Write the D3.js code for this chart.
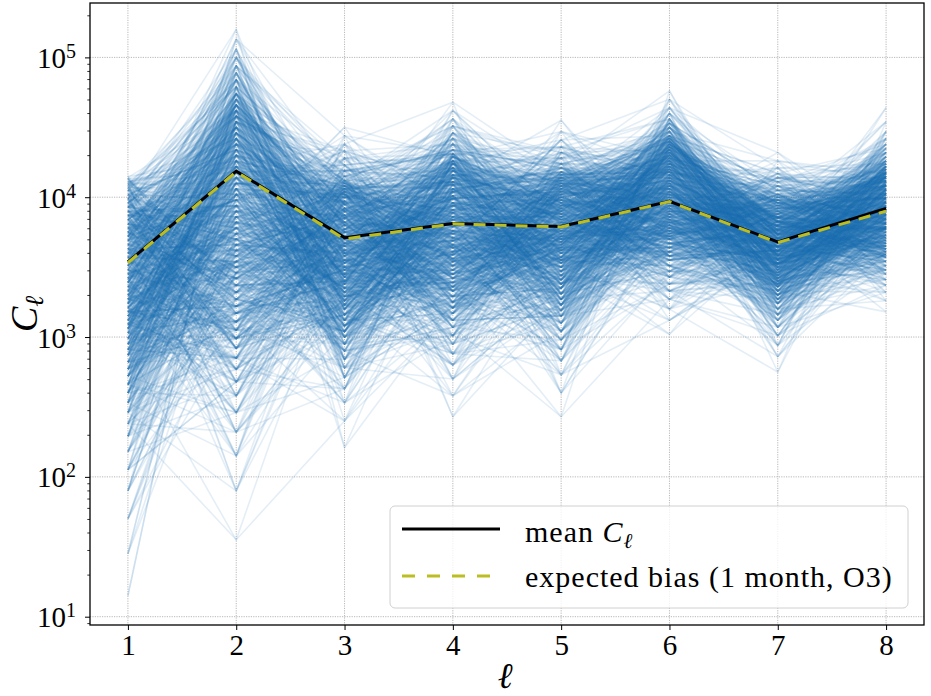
<!DOCTYPE html>
<html>
<head>
<meta charset="utf-8">
<script src="https://cdn.jsdelivr.net/npm/d3@7"></script>
<style>
  body { margin: 0; background: #fff; }
  svg { display: block; }
  .serif { font-family: "Liberation Serif", "DejaVu Serif", serif; fill: #000; }
</style>
</head>
<body>
<svg id="chart" width="931" height="696"></svg>
<script>
// multipole index
const ells = [1, 2, 3, 4, 5, 6, 7, 8];

// mean C_l over all realizations and the expected bias
const meanCl = [3440, 15350, 5140, 6490, 6170, 9360, 4790, 8330];
const biasCl = [3400, 15200, 5020, 6450, 6130, 9300, 4740, 7950];

// spread of the realizations at each l (log10 C_l, low to high)
const logSamplesL1 = [1.15, 1.45, 1.70, 1.90, 2.05, 2.18, 2.29, 2.38, 2.46, 2.53, 2.60, 2.66, 2.72, 2.77, 2.82, 2.87, 2.91, 2.95, 2.99, 3.03,
                      3.06, 3.09, 3.12, 3.15, 3.18, 3.21, 3.24, 3.27, 3.30, 3.33, 3.36, 3.39, 3.42, 3.45, 3.48, 3.51, 3.54, 3.57, 3.60, 3.63,
                      3.66, 3.69, 3.72, 3.75, 3.78, 3.81, 3.84, 3.87, 3.90, 3.93, 3.96, 3.99, 4.02, 4.05, 4.07, 4.09, 4.11, 4.13, 4.14, 4.15];
const logSamplesL2 = [1.55, 1.90, 2.15, 2.32, 2.46, 2.58, 2.68, 2.77, 2.85, 2.92, 2.99, 3.05, 3.11, 3.17, 3.22, 3.27, 3.32, 3.37, 3.42, 3.46,
                      3.50, 3.54, 3.58, 3.62, 3.66, 3.70, 3.74, 3.78, 3.82, 3.86, 3.90, 3.94, 3.98, 4.02, 4.06, 4.10, 4.14, 4.18, 4.22, 4.26,
                      4.30, 4.34, 4.38, 4.42, 4.46, 4.50, 4.54, 4.58, 4.62, 4.66, 4.70, 4.74, 4.79, 4.84, 4.89, 4.94, 5.00, 5.06, 5.13, 5.20];
const logSamplesL3 = [2.21, 2.40, 2.53, 2.63, 2.71, 2.78, 2.84, 2.90, 2.95, 3.00, 3.04, 3.08, 3.12, 3.16, 3.20, 3.23, 3.26, 3.29, 3.32, 3.35,
                      3.38, 3.40, 3.43, 3.45, 3.48, 3.50, 3.53, 3.55, 3.58, 3.60, 3.62, 3.65, 3.67, 3.70, 3.72, 3.75, 3.77, 3.80, 3.82, 3.85,
                      3.87, 3.90, 3.92, 3.95, 3.97, 4.00, 4.02, 4.04, 4.06, 4.08, 4.10, 4.12, 4.15, 4.19, 4.23, 4.28, 4.33, 4.38, 4.44, 4.50];
const logSamplesL4 = [2.43, 2.58, 2.70, 2.80, 2.88, 2.95, 3.01, 3.07, 3.12, 3.17, 3.21, 3.25, 3.29, 3.33, 3.36, 3.39, 3.42, 3.45, 3.48, 3.51,
                      3.54, 3.56, 3.59, 3.61, 3.64, 3.66, 3.69, 3.71, 3.74, 3.76, 3.79, 3.81, 3.84, 3.86, 3.89, 3.91, 3.94, 3.96, 3.99, 4.01,
                      4.04, 4.06, 4.09, 4.11, 4.14, 4.16, 4.19, 4.21, 4.24, 4.26, 4.29, 4.31, 4.34, 4.38, 4.42, 4.46, 4.51, 4.56, 4.62, 4.68];
const logSamplesL5 = [2.43, 2.60, 2.73, 2.83, 2.91, 2.98, 3.04, 3.10, 3.15, 3.19, 3.23, 3.27, 3.31, 3.35, 3.38, 3.41, 3.44, 3.47, 3.50, 3.53,
                      3.55, 3.57, 3.60, 3.62, 3.64, 3.66, 3.68, 3.70, 3.72, 3.74, 3.76, 3.78, 3.80, 3.82, 3.84, 3.86, 3.88, 3.90, 3.92, 3.94,
                      3.96, 3.98, 4.00, 4.02, 4.04, 4.06, 4.08, 4.10, 4.12, 4.14, 4.16, 4.18, 4.21, 4.24, 4.28, 4.32, 4.36, 4.41, 4.47, 4.55];
const logSamplesL6 = [3.02, 3.12, 3.20, 3.27, 3.33, 3.38, 3.43, 3.47, 3.51, 3.55, 3.58, 3.61, 3.64, 3.67, 3.70, 3.72, 3.74, 3.76, 3.78, 3.80,
                      3.82, 3.84, 3.86, 3.88, 3.90, 3.92, 3.94, 3.96, 3.98, 4.00, 4.02, 4.04, 4.06, 4.08, 4.10, 4.12, 4.14, 4.16, 4.18, 4.20,
                      4.22, 4.24, 4.26, 4.28, 4.30, 4.32, 4.34, 4.36, 4.38, 4.40, 4.42, 4.44, 4.47, 4.50, 4.53, 4.56, 4.60, 4.64, 4.70, 4.76];
const logSamplesL7 = [2.75, 2.86, 2.94, 3.01, 3.07, 3.12, 3.16, 3.20, 3.24, 3.27, 3.30, 3.33, 3.36, 3.38, 3.40, 3.42, 3.44, 3.46, 3.48, 3.50,
                      3.52, 3.53, 3.55, 3.56, 3.58, 3.59, 3.61, 3.62, 3.64, 3.65, 3.67, 3.68, 3.70, 3.71, 3.73, 3.74, 3.76, 3.77, 3.79, 3.80,
                      3.82, 3.83, 3.85, 3.86, 3.88, 3.90, 3.92, 3.94, 3.96, 3.98, 4.00, 4.02, 4.05, 4.08, 4.11, 4.14, 4.17, 4.21, 4.26, 4.32];
const logSamplesL8 = [3.18, 3.26, 3.32, 3.37, 3.41, 3.45, 3.48, 3.51, 3.54, 3.57, 3.59, 3.61, 3.63, 3.65, 3.67, 3.69, 3.71, 3.73, 3.75, 3.77,
                      3.78, 3.79, 3.81, 3.82, 3.84, 3.85, 3.87, 3.88, 3.90, 3.91, 3.93, 3.94, 3.96, 3.97, 3.99, 4.00, 4.02, 4.03, 4.05, 4.06,
                      4.08, 4.09, 4.11, 4.12, 4.14, 4.15, 4.17, 4.18, 4.20, 4.22, 4.24, 4.26, 4.29, 4.32, 4.35, 4.38, 4.42, 4.47, 4.54, 4.64];

// tick values
const majorYTicks = [1e1, 1e2, 1e3, 1e4, 1e5];
const yExponents = [1, 2, 3, 4, 5];

const legendLabels = ["mean", "expected bias (1 month, O3)"];

// ---- layout ----
const plot = { left: 90, right: 924, top: 3, bottom: 625 };
const svg = d3.select("#chart");

const x = d3.scaleLinear().domain([0.65, 8.35]).range([plot.left, plot.right]);
const y = d3.scaleLog().domain([Math.pow(10, 0.9406), Math.pow(10, 5.389)]).range([plot.bottom, plot.top]);

svg.append("rect").attr("width", 931).attr("height", 696).attr("fill", "#fff");

svg.append("defs").append("clipPath").attr("id", "plot-clip")
  .append("rect")
  .attr("x", plot.left).attr("y", plot.top)
  .attr("width", plot.right - plot.left).attr("height", plot.bottom - plot.top);

// grid (dotted)
const grid = svg.append("g").attr("stroke", "#b0b0b0").attr("stroke-width", 0.9).attr("stroke-dasharray", "1.2,1.2");
grid.selectAll("line.gx").data(ells).enter().append("line")
  .attr("x1", d => x(d)).attr("x2", d => x(d))
  .attr("y1", plot.top).attr("y2", plot.bottom);
grid.selectAll("line.gy").data(majorYTicks).enter().append("line")
  .attr("x1", plot.left).attr("x2", plot.right)
  .attr("y1", d => y(d)).attr("y2", d => y(d));

// ---- realizations ----
const samplesByEll = [logSamplesL1, logSamplesL2, logSamplesL3, logSamplesL4,
                      logSamplesL5, logSamplesL6, logSamplesL7, logSamplesL8];
const nSamp = logSamplesL1.length;

// how many passes use the levels from `trim` to nSamp-1-trim: the tails get few lines
const trimPasses = [[0, 2], [1, 2], [2, 2], [3, 2], [4, 2], [6, 3], [8, 3], [10, 4]];

// fixed integer hash, only used to decide which level at one l joins which level at the next
function mix(a, b, c) {
  let h = Math.imul(a ^ 0x9e3779b9, 0x85ebca6b) ^ Math.imul(b + 0x7f4a7c15, 0xc2b2ae35) ^ Math.imul(c + 0x165667b1, 0x27d4eb2f);
  h ^= h >>> 15; h = Math.imul(h, 0x2c1b3c6d);
  h ^= h >>> 12; h = Math.imul(h, 0x297a2d39);
  h ^= h >>> 15;
  return h >>> 0;
}

const realizations = [];
let pass = 0;
trimPasses.forEach(([trim, count]) => {
  for (let c = 0; c < count; c++, pass++) {
    const n = nSamp - 2 * trim;
    const orders = ells.map((l, i) =>
      d3.range(n).sort((a, b) => mix(pass, i, a) - mix(pass, i, b)));
    for (let k = 0; k < n; k++) {
      realizations.push(ells.map((l, i) => ({
        l: l,
        v: Math.pow(10, samplesByEll[i][trim + orders[i][k]])
      })));
    }
  }
});

const line = d3.line().x(d => x(d.l)).y(d => y(d.v));

const plotArea = svg.append("g").attr("clip-path", "url(#plot-clip)");
plotArea.append("g")
  .selectAll("path")
  .data(realizations)
  .enter()
  .append("path")
  .attr("d", line)
  .attr("fill", "none")
  .attr("stroke", "#1f77b4")
  .attr("stroke-opacity", 0.12)
  .attr("stroke-width", 1.6)
  .attr("stroke-linejoin", "round");

// mean and bias
const meanData = ells.map((l, i) => ({ l: l, v: meanCl[i] }));
const biasData = ells.map((l, i) => ({ l: l, v: biasCl[i] }));

plotArea.append("path")
  .datum(meanData)
  .attr("d", line)
  .attr("fill", "none")
  .attr("stroke", "#000")
  .attr("stroke-width", 3);

plotArea.append("path")
  .datum(biasData)
  .attr("d", line)
  .attr("fill", "none")
  .attr("stroke", "#bcbd22")
  .attr("stroke-width", 3)
  .attr("stroke-dasharray", "12,9");

// ---- axes ----
const xAxis = svg.append("g")
  .attr("transform", `translate(0,${plot.bottom})`)
  .call(d3.axisBottom(x).tickValues(ells).tickSize(5).tickSizeOuter(0).tickPadding(8));
xAxis.select(".domain").remove();
xAxis.selectAll(".tick line").attr("stroke", "#000").attr("stroke-width", 1);
xAxis.selectAll(".tick text")
  .attr("class", "serif")
  .attr("font-size", 29)
  .attr("dy", null)
  .attr("y", 30);

const minorYTicks = [9];
[10, 100, 1000, 10000, 100000].forEach(dec => {
  for (let m = 2; m <= 9; m++) minorYTicks.push(dec * m);
});

const yMinor = svg.append("g")
  .attr("transform", `translate(${plot.left},0)`)
  .call(d3.axisLeft(y).tickValues(minorYTicks.filter(v => v <= y.domain()[1])).tickSize(2.7).tickFormat(""));
yMinor.select(".domain").remove();
yMinor.selectAll(".tick line").attr("stroke", "#000").attr("stroke-width", 0.8);

const yAxis = svg.append("g")
  .attr("transform", `translate(${plot.left},0)`)
  .call(d3.axisLeft(y).tickValues(majorYTicks).tickSize(5).tickPadding(9));
yAxis.select(".domain").remove();
yAxis.selectAll(".tick line").attr("stroke", "#000").attr("stroke-width", 1);
yAxis.selectAll(".tick text")
  .attr("class", "serif")
  .attr("font-size", 29)
  .attr("dy", null)
  .attr("y", 10)
  .text(null)
  .each(function(d, i) {
    const t = d3.select(this);
    t.append("tspan").text("10");
    t.append("tspan").attr("font-size", 20).attr("dy", -10).text(yExponents[i]);
  });

// spines
svg.append("rect")
  .attr("x", plot.left).attr("y", plot.top)
  .attr("width", plot.right - plot.left).attr("height", plot.bottom - plot.top)
  .attr("fill", "none").attr("stroke", "#000").attr("stroke-width", 1.3);

// axis labels
svg.append("text")
  .attr("class", "serif")
  .attr("x", (plot.left + plot.right) / 2 - 2)
  .attr("y", 688)
  .attr("text-anchor", "middle")
  .attr("font-size", 36)
  .attr("font-style", "italic")
  .text("ℓ");

const yLabel = svg.append("text")
  .attr("class", "serif")
  .attr("transform", `translate(37,${(plot.top + plot.bottom) / 2}) rotate(-90)`)
  .attr("text-anchor", "middle")
  .attr("font-size", 38)
  .attr("font-style", "italic");
yLabel.append("tspan").text("C");
yLabel.append("tspan").attr("font-size", 26).attr("dy", 6).text("ℓ");

// ---- legend ----
const legend = svg.append("g");
legend.append("rect")
  .attr("x", 390).attr("y", 506)
  .attr("width", 518).attr("height", 102)
  .attr("rx", 5)
  .attr("fill", "#fff").attr("fill-opacity", 0.8)
  .attr("stroke", "#d0d0d0").attr("stroke-width", 1);

legend.append("line")
  .attr("x1", 402).attr("x2", 500).attr("y1", 529).attr("y2", 529)
  .attr("stroke", "#000").attr("stroke-width", 3);
legend.append("line")
  .attr("x1", 402).attr("x2", 500).attr("y1", 576).attr("y2", 576)
  .attr("stroke", "#bcbd22").attr("stroke-width", 3)
  .attr("stroke-dasharray", "13,12");

const l1 = legend.append("text")
  .attr("class", "serif")
  .attr("x", 525).attr("y", 542)
  .attr("font-size", 30)
  .attr("letter-spacing", 1);
l1.append("tspan").text(legendLabels[0] + " ");
l1.append("tspan").attr("font-style", "italic").text("C");
l1.append("tspan").attr("font-style", "italic").attr("font-size", 21).attr("dy", 6).text("ℓ");

legend.append("text")
  .attr("class", "serif")
  .attr("x", 525).attr("y", 587)
  .attr("font-size", 30)
  .attr("letter-spacing", 1)
  .text(legendLabels[1]);
</script>
</body>
</html>
